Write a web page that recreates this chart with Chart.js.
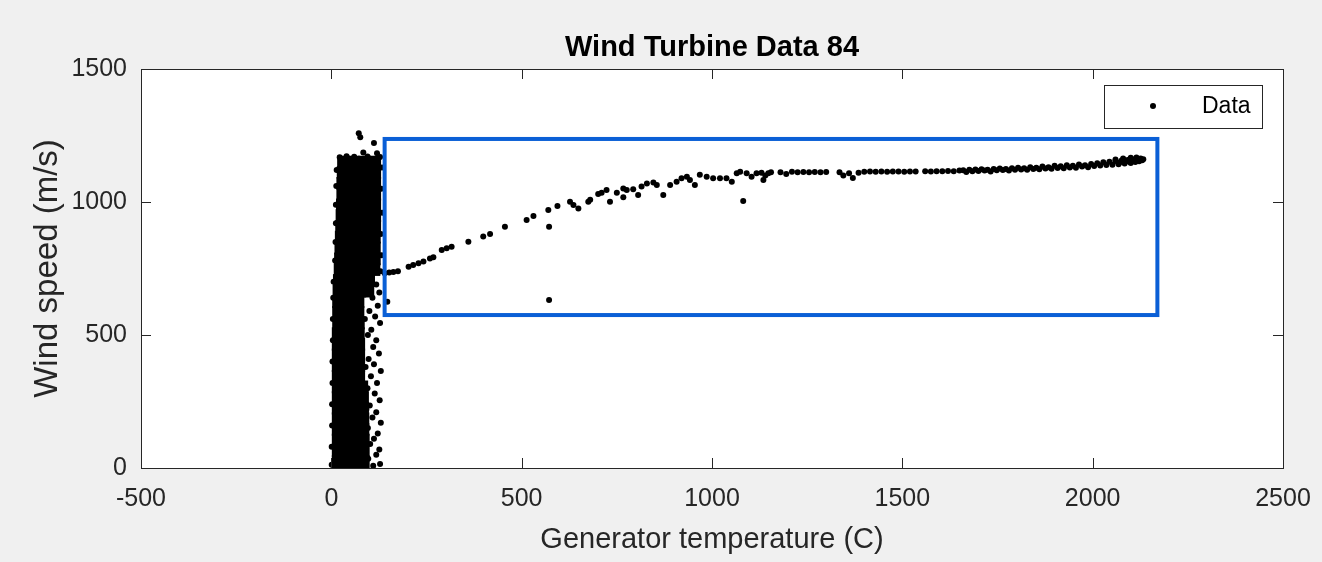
<!DOCTYPE html>
<html>
<head>
<meta charset="utf-8">
<title>Wind Turbine Data 84</title>
<script src="https://cdn.jsdelivr.net/npm/chart.js@4.4.1/dist/chart.umd.min.js"></script>
<style>
  html, body { margin: 0; padding: 0; background: #f0f0f0; }
  #Chart__Wrap { width: 1322px; height: 562px; }
</style>
</head>
<body>
<div id="Chart__Wrap"><canvas id="Turbine__Chart" width="1322" height="562"></canvas></div>
<script>
const chartCanvas = document.getElementById("Turbine__Chart");

/* Axis ticks */
const xTicks = [-500, 0, 500, 1000, 1500, 2000, 2500];
const yTicks = [0, 500, 1000, 1500];

/* Rising part of the curve [generator temperature, wind speed] */
const curveRise = [
  [140,732],[152,735],[163,737],[175,740],[203,757],[215,763],[229,770],[242,776],
  [259,788],[268,792],[290,820],[303,826],[316,832],[360,851],[399,870],[417,880],
  [456,907],[513,932],[531,947],[570,970],[594,985],[627,1001],[636,989],[649,976],
  [675,1001],[680,1008],[701,1030],[710,1035],[723,1045],[732,1001],[750,1035],
  [767,1051],[776,1045],[793,1048],[767,1018],[806,1026],[815,1058],[829,1070],
  [846,1073],[855,1064],[872,1026],[890,1064],[907,1076],[920,1089],[934,1095],
  [942,1083],[955,1064],[968,1102],[986,1095],[1003,1089],[1021,1089],[1038,1089],
  [1052,1076],[1065,1108],[1074,1114],[1091,1108],[1104,1095],[1117,1108],
  [1135,1083],[1148,1108]
];

/* Flat part of the curve */
const curvePlateau = [
  [1130,1110],[1140,1100],[1155,1112],[1180,1112],[1195,1105],[1210,1114],[1225,1112],
  [1240,1113],[1255,1112],[1270,1113],[1285,1112],[1300,1113],[1335,1112],[1345,1100],
  [1360,1108],[1370,1090],[1385,1110],[1400,1114],[1415,1115],[1430,1114],[1445,1115],
  [1460,1114],[1475,1115],[1490,1115],[1505,1114],[1520,1115],[1535,1115],[1560,1116],
  [1575,1115],[1590,1116],[1605,1116],[1620,1117],[1635,1116],[1650,1118],
  [1660,1119],[1668,1113],[1676,1121],[1684,1116],[1692,1122],[1700,1117],[1708,1123],
  [1716,1118],[1724,1121],[1732,1115],[1740,1124],[1748,1119],[1756,1126],[1764,1120],
  [1772,1124],[1780,1118],[1788,1127],[1796,1121],[1804,1129],[1812,1122],[1820,1127],
  [1828,1121],[1836,1131],[1844,1124],[1852,1129],[1860,1123],[1868,1133],[1876,1126],
  [1884,1131],[1892,1125],[1900,1136],[1908,1128],[1916,1134],[1924,1127],[1932,1138],
  [1940,1130],[1948,1136],[1956,1129],[1964,1141],[1972,1133],[1980,1138],[1988,1131],
  [1996,1143],[2004,1135],[2012,1146],[2020,1137],[2028,1149],[2036,1139],[2044,1151],
  [2052,1140],[2060,1154],[2068,1142],[2076,1156],[2084,1145],[2092,1158],[2100,1147],
  [2106,1160],[2112,1150],[2118,1162],[2122,1153],[2126,1164],[2130,1157],[2133,1161],
  [2060,1160],[2080,1164],[2100,1166],[2115,1167],[2070,1148],[2095,1152],[2120,1158]
];

/* Stray readings */
const strayPoints = [[147,625],[572,907],[572,632],[1082,1004]];

/* Loose readings round the dense block near 0-130 C */
const clusterSpread = [
  [72,1258],[76,1243],[112,1222],[84,1186],[120,1183],
  [22,1168],[40,1172],[60,1170],[95,1171],[128,1169],
  [14,1120],[13,1060],[12,990],[12,920],[11,850],[10,780],
  [6,700],[5,640],[4,560],[4,480],[3,400],[3,320],[2,240],[2,160],[1,80],[1,12],
  [133,1130],[131,1050],[134,960],[130,880],[132,800],[129,740],
  [118,690],[126,660],[108,640],[122,610],[100,590],[115,570],[128,545],[105,520],
  [96,500],[118,480],[110,455],[125,430],[98,410],[112,390],[130,365],[104,345],
  [120,320],[95,300],[114,280],[127,255],[101,235],[118,210],[108,190],[130,170],
  [96,150],[122,130],[112,110],[102,90],[126,70],[118,50],[97,35],[128,15],[110,8],
  [88,560],[90,380],[92,220],[90,60]
];

/* Dense block of readings: [wind speed, generator temperatures...] */
const clusterCore = [
  [1150, 32, 58, 87, 114],
  [1111, 31, 58, 87, 114],
  [1070, 30, 58, 87, 114],
  [1030, 30, 58, 87, 114],
  [989, 29, 58, 87, 114],
  [949, 28, 57, 86, 114],
  [908, 27, 56, 86, 114],
  [868, 26, 55, 85, 113],
  [827, 25, 54, 84, 113],
  [786, 24, 53, 83, 113],
  [746, 23, 52, 82, 112],
  [705, 21, 47, 75, 98],
  [665, 20, 47, 75, 96],
  [625, 19, 44, 70],
  [585, 19, 44, 70],
  [545, 19, 44, 71],
  [505, 18, 44, 71],
  [465, 18, 44, 72],
  [425, 18, 44, 72],
  [385, 18, 44, 72],
  [345, 18, 44, 72],
  [305, 18, 44, 72, 80],
  [265, 18, 44, 72, 82],
  [225, 18, 44, 72, 82],
  [185, 18, 44, 72, 83],
  [145, 18, 44, 72, 83],
  [105, 18, 44, 72, 84],
  [64, 18, 44, 72, 84],
  [24, 18, 44, 72, 84]
];

/* Box drawn round the curve [x range], [y range] */
const highlightX = [140, 2170];
const highlightY = [575, 1237];

const FontFamily = "'Liberation Sans', Arial, Helvetica, sans-serif";
const AxisColor = "#262626";

function toPoints(pairs) {
  return pairs.map(p => ({ x: p[0], y: p[1] }));
}

function corePoints(rows) {
  return rows.flatMap(r => r.slice(1).map(x => ({ x: x, y: r[0] })));
}

/* Draws the MATLAB look: white axes, box, inward ticks, highlight box and legend */
const MatlabFrame = {
  id: "MatlabFrame",
  beforeDraw(chart) {
    const { ctx, chartArea: a } = chart;
    ctx.save();
    ctx.fillStyle = "#f0f0f0";
    ctx.fillRect(0, 0, chart.width, chart.height);
    ctx.fillStyle = "#ffffff";
    ctx.fillRect(a.left, a.top, a.right - a.left, a.bottom - a.top);
    ctx.restore();
  },
  afterDatasetsDraw(chart) {
    const { ctx, scales } = chart;
    const x1 = scales.x.getPixelForValue(highlightX[0]);
    const x2 = scales.x.getPixelForValue(highlightX[1]);
    const y1 = scales.y.getPixelForValue(highlightY[1]);
    const y2 = scales.y.getPixelForValue(highlightY[0]);
    ctx.save();
    ctx.strokeStyle = "#0a5fd6";
    ctx.lineWidth = 4;
    ctx.strokeRect(x1, y1, x2 - x1, y2 - y1);
    ctx.restore();
  },
  afterDraw(chart) {
    const { ctx, chartArea: a, scales } = chart;
    const tick = 10;
    ctx.save();
    ctx.strokeStyle = AxisColor;
    ctx.lineWidth = 1;
    ctx.beginPath();
    xTicks.forEach(v => {
      const px = Math.round(scales.x.getPixelForValue(v)) + 0.5;
      ctx.moveTo(px, a.bottom); ctx.lineTo(px, a.bottom - tick);
      ctx.moveTo(px, a.top); ctx.lineTo(px, a.top + tick);
    });
    yTicks.forEach(v => {
      const py = Math.round(scales.y.getPixelForValue(v)) + 0.5;
      ctx.moveTo(a.left, py); ctx.lineTo(a.left + tick, py);
      ctx.moveTo(a.right, py); ctx.lineTo(a.right - tick, py);
    });
    ctx.stroke();
    ctx.strokeRect(Math.round(a.left) + 0.5, Math.round(a.top) + 0.5,
      Math.round(a.right - a.left), Math.round(a.bottom - a.top));

    /* legend inside the axes, top right */
    const lw = 158, lh = 43;
    const lx = a.right - 179, ly = a.top + 16;
    ctx.fillStyle = "#ffffff";
    ctx.fillRect(lx, ly, lw, lh);
    ctx.strokeRect(lx + 0.5, ly + 0.5, lw, lh);
    const ds = chart.data.datasets[0];
    ctx.fillStyle = ds.backgroundColor;
    ctx.beginPath();
    ctx.arc(lx + 49, ly + 21, ds.pointRadius, 0, Math.PI * 2);
    ctx.fill();
    ctx.fillStyle = "#000000";
    ctx.font = "23px " + FontFamily;
    ctx.textBaseline = "middle";
    ctx.textAlign = "left";
    ctx.fillText(ds.label, lx + 98, ly + 22);
    ctx.restore();
  }
};

const myChart = new Chart(chartCanvas, {
  type: "scatter",
  plugins: [MatlabFrame],
  data: {
    datasets: [
      {
        label: "Data",
        data: toPoints(curveRise.concat(curvePlateau, strayPoints, clusterSpread)),
        backgroundColor: "#000000",
        borderWidth: 0,
        pointRadius: 3
      },
      {
        label: "Data (dense)",
        data: corePoints(clusterCore),
        backgroundColor: "#000000",
        borderWidth: 0,
        pointStyle: "rect",
        pointRadius: 9
      }
    ]
  },
  options: {
    responsive: false,
    animation: false,
    events: [],
    layout: { padding: { top: 0, right: 39, bottom: 0, left: 0 } },
    plugins: {
      legend: { display: false },
      tooltip: { enabled: false },
      title: {
        display: true,
        fullSize: false,
        text: "Wind Turbine Data 84",
        color: "#000000",
        font: { family: FontFamily, size: 29, weight: "bold" },
        padding: { top: 31, bottom: 3.2 }
      }
    },
    scales: {
      x: {
        type: "linear",
        min: xTicks[0],
        max: xTicks[xTicks.length - 1],
        afterBuildTicks: s => { s.ticks = xTicks.map(v => ({ value: v })); },
        afterFit: s => { s.height = 94; s.paddingLeft = 0; s.paddingRight = 0; },
        grid: { display: false, drawTicks: false },
        border: { display: false },
        ticks: {
          color: AxisColor,
          padding: 16,
          maxRotation: 0,
          callback: v => String(v),
          font: { family: FontFamily, size: 25 }
        },
        title: {
          display: true,
          text: "Generator temperature (C)",
          color: AxisColor,
          font: { family: FontFamily, size: 29 },
          padding: { top: 0, bottom: 5 }
        }
      },
      y: {
        type: "linear",
        min: yTicks[0],
        max: yTicks[yTicks.length - 1],
        afterBuildTicks: s => { s.ticks = yTicks.map(v => ({ value: v })); },
        afterFit: s => { s.width = 141; s.paddingTop = 0; s.paddingBottom = 0; },
        grid: { display: false, drawTicks: false },
        border: { display: false },
        ticks: {
          color: AxisColor,
          padding: 14,
          callback: v => String(v),
          font: { family: FontFamily, size: 25 }
        },
        title: {
          display: true,
          text: "Wind speed (m/s)",
          color: AxisColor,
          font: { family: FontFamily, size: 33 },
          padding: { top: 28, bottom: 0 }
        }
      }
    }
  }
});
</script>
</body>
</html>
